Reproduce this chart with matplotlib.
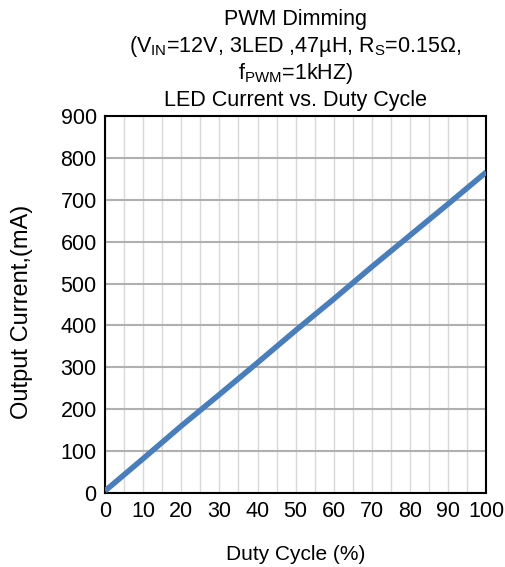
import matplotlib
matplotlib.use("Agg")
import matplotlib.pyplot as plt
import numpy as np

plt.rcParams['font.family'] = ['Liberation Sans', 'DejaVu Sans']
plt.rcParams['mathtext.fontset'] = 'custom'
plt.rcParams['mathtext.rm'] = 'Liberation Sans'
plt.rcParams['mathtext.it'] = 'Liberation Sans'

# data
duty = [0, 10, 20, 30, 40, 50, 60, 70, 80, 90, 100]
current = [5, 82, 160, 235, 311, 388, 463, 540, 615, 690, 766]
xticks = [0, 10, 20, 30, 40, 50, 60, 70, 80, 90, 100]
yticks = [0, 100, 200, 300, 400, 500, 600, 700, 800, 900]

fig = plt.figure(figsize=(5.06, 5.67), dpi=100)
ax = fig.add_axes([0.2075, 0.1305, 0.7535, 0.665])

ax.plot(duty, current, color='#4a7ebb', lw=4, solid_capstyle='butt', zorder=3)

ax.set_xlim(0, 100)
ax.set_ylim(0, 900)
ax.set_xticks(xticks)
ax.set_yticks(yticks)
ax.set_xticks(np.arange(0, 101, 5), minor=True)
ax.tick_params(which='both', length=0, labelsize=15.5, pad=6)
ax.grid(True, which='major', axis='y', color='#b0b0b0', lw=1.5)
ax.grid(True, which='both', axis='x', color='#d8d8d8', lw=1.0)
for s in ax.spines.values():
    s.set_linewidth(1.5)
    s.set_color('black')

ax.set_xlabel('Duty Cycle (%)', fontsize=15, labelpad=16)
ax.set_ylabel('Output Current,(mA)', fontsize=17)
ax.yaxis.set_label_coords(-0.19, 0.48)

cx = 0.2075 + 0.7535 / 2
fig.text(cx, 0.966, 'PWM Dimming', ha='center', va='center', fontsize=15.5)
fig.text(cx, 0.918, r'(V$_{\mathrm{IN}}$=12V, 3LED ,47µH, R$_{\mathrm{S}}$=0.15Ω,',
         ha='center', va='center', fontsize=15.5)
fig.text(cx, 0.871, r'f$_{\mathrm{PWM}}$=1kHZ)', ha='center', va='center', fontsize=15.5)
fig.text(cx, 0.823, 'LED Current vs. Duty Cycle', ha='center', va='center', fontsize=15.5)

fig.savefig('out.png', dpi=100)
